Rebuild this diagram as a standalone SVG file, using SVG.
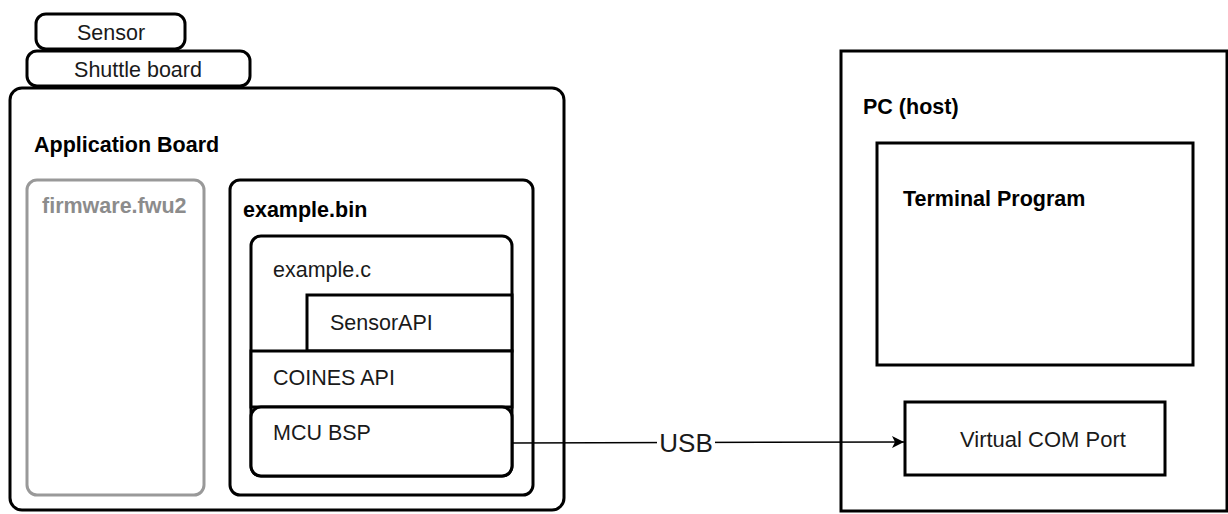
<svg xmlns="http://www.w3.org/2000/svg" width="1228" height="514" viewBox="0 0 1228 514">
<style>
  .box{fill:#fff;stroke:#000;stroke-width:3}
  .gray{fill:#fff;stroke:#999;stroke-width:3}
  .t{font-family:"Liberation Sans",Arial,sans-serif;font-size:21.5px;fill:#1a1a1a}
  .b{font-family:"Liberation Sans",Arial,sans-serif;font-size:21.5px;font-weight:bold;fill:#000}
  .c{text-anchor:middle}
  .edge{fill:none;stroke:#000;stroke-width:1.5}
</style>
<defs>
  <marker id="arr" markerWidth="14" markerHeight="12" refX="12" refY="6" orient="auto" markerUnits="userSpaceOnUse">
    <path d="M0,0 L12,6 L0,12 L3,6 Z" fill="#000"/>
  </marker>
</defs>
<rect width="1228" height="514" fill="#fff"/>
<g id="sensor">
  <rect class="box" x="36" y="14" width="149" height="35" rx="10"/>
  <text class="t c" x="111" y="40">Sensor</text>
</g>
<g id="shuttle">
  <rect class="box" x="27" y="51" width="223" height="35" rx="10"/>
  <text class="t c" x="138" y="77">Shuttle board</text>
</g>
<g id="appboard">
  <rect class="box" x="10" y="88" width="554" height="422" rx="12"/>
  <text class="b" x="34" y="152">Application Board</text>
</g>
<g id="firmware">
  <rect class="gray" x="27" y="180" width="177" height="315" rx="10"/>
  <text class="b" x="42" y="213" style="fill:#8c8c8c">firmware.fwu2</text>
</g>
<g id="examplebin">
  <rect class="box" x="230" y="180" width="303" height="315" rx="10"/>
  <text class="b" x="243" y="217">example.bin</text>
</g>
<g id="examplec">
  <rect class="box" x="251" y="236" width="261" height="240" rx="10"/>
  <text class="t" x="273" y="277">example.c</text>
</g>
<g id="sensorapi">
  <rect class="box" x="307" y="295" width="205" height="56"/>
  <text class="t" x="330" y="330">SensorAPI</text>
</g>
<g id="coines">
  <rect class="box" x="251" y="351" width="261" height="56"/>
  <text class="t" x="273" y="385">COINES API</text>
</g>
<g id="mcubsp">
  <rect class="box" x="251" y="407" width="261" height="69" rx="10"/>
  <text class="t" x="273" y="440">MCU BSP</text>
</g>
<g id="pc">
  <rect class="box" x="841" y="51" width="386" height="460"/>
  <text class="b" x="863" y="114">PC (host)</text>
</g>
<g id="terminal">
  <rect class="box" x="877" y="143" width="316" height="222"/>
  <text class="b" x="903" y="206">Terminal Program</text>
</g>
<g id="vcom">
  <rect class="box" x="905" y="402" width="260" height="73"/>
  <text class="t" x="960" y="447" style="font-size:22px">Virtual COM Port</text>
</g>
<g id="connectors">
  <path class="edge" d="M512,443 L904,442" marker-end="url(#arr)"/>
  <rect x="657" y="428" width="58" height="30" fill="#fff"/>
  <text class="t c" x="686" y="452" style="font-size:26px">USB</text>
</g>
</svg>
